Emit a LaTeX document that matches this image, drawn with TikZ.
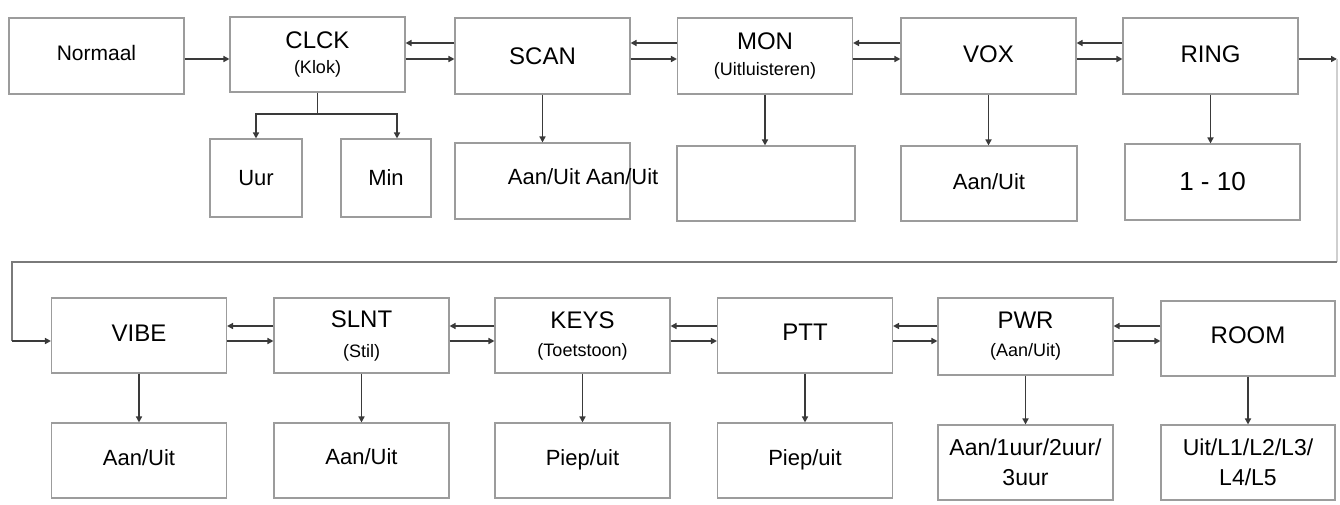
\documentclass[tikz,border=0pt]{standalone}
\usepackage{fontspec}
\setmainfont{Liberation Sans}
\usetikzlibrary{arrows.meta,calc}
\definecolor{boxc}{HTML}{9C9C9C}
\definecolor{arrc}{HTML}{3A3A3A}
\definecolor{wrapc}{HTML}{7A7A7A}
\definecolor{faintc}{HTML}{CFCFCF}
\newcommand{\prn}[1]{{\fontsize{18}{20}\selectfont #1}}
\begin{document}
\begin{tikzpicture}[x=1pt,y=-1pt,
  box/.style={draw=boxc, line width=1.1pt, fill=white, inner sep=0pt,
    minimum width=175pt, minimum height=76pt, align=center,
    font=\fontsize{24}{28}\selectfont},
  subbox/.style={box, font=\fontsize{22}{30}\selectfont},
  arr/.style={draw=arrc, line width=1.5pt, -{Triangle[length=6pt,width=6pt]}},
  plain/.style={draw=arrc, line width=1.5pt},
  wrapline/.style={draw=wrapc, line width=1.1pt},
  faintline/.style={draw=faintc, line width=1.1pt}]
\useasboundingbox (0,0) rectangle (1340,504);
\fill[white] (0,0) rectangle (1340,504);

% helper coordinates for arrow heights
\coordinate (ya) at (0,43);
\coordinate (yb) at (0,59);
\coordinate (ybr) at (0,114);
\coordinate (yc) at (0,326);
\coordinate (yd) at (0,341);

% top row
\node[box, font=\fontsize{21}{24}\selectfont] (norm) at (96.5,56) {\raisebox{6pt}{Normaal}};
\node[box, minimum height=75pt] (clck) at (317.5,54.5) {CLCK\\[-3pt]\prn{(Klok)}};
\node[box] (scan) at (542.5,56) {SCAN};
\node[box] (mon) at (765,56) {\raisebox{2pt}{MON}\\[-4pt]\prn{(Uitluisteren)}};
\node[box] (vox) at (988.5,56) {\raisebox{4pt}{VOX}};
\node[box] (ring) at (1210.5,56) {\raisebox{4pt}{RING}};

% top sub row
\node[subbox, minimum width=92pt, minimum height=78pt] (uur) at (256,178) {Uur};
\node[subbox, minimum width=90pt, minimum height=78pt] (min) at (386,178) {Min};
\node[subbox, label={[font=\fontsize{22}{30}\selectfont, anchor=west, xshift=50pt, yshift=4pt]west:Aan/Uit Aan/Uit}] (scansub) at (542.5,181) {};
\node[subbox, minimum width=178pt, minimum height=75pt] (monsub) at (766,183.5) {};
\node[subbox, minimum width=176pt, minimum height=75pt] (voxsub) at (989,183.5) {\raisebox{4pt}{Aan/Uit}};
\node[subbox, font=\fontsize{26}{30}\selectfont] (ringsub) at (1212.5,182) {1 - 10};

% bottom row
\node[box, minimum height=75pt] (vibe) at (139,335.5) {\raisebox{5pt}{VIBE}};
\node[box, minimum height=75pt] (slnt) at (361.5,335.5) {SLNT\\[2pt]\prn{(Stil)}};
\node[box, minimum height=75pt] (keys) at (582.5,335.5) {KEYS\\[0pt]\prn{(Toetstoon)}};
\node[box, minimum height=75pt] (ptt) at (805,335.5) {\raisebox{7pt}{PTT}};
\node[box, minimum height=77pt] (pwr) at (1025.5,336.5) {PWR\\[0pt]\prn{(Aan/Uit)}};
\node[box, minimum width=174pt, minimum height=75pt] (room) at (1248,338.5) {\raisebox{6pt}{ROOM}};

% bottom sub row
\node[subbox, minimum height=75pt] (vibesub) at (139,460.5) {\raisebox{5pt}{Aan/Uit}};
\node[subbox, minimum height=75pt] (slntsub) at (361.5,460.5) {\raisebox{8pt}{Aan/Uit}};
\node[subbox, minimum height=75pt] (keyssub) at (582.5,460.5) {\raisebox{5pt}{Piep/uit}};
\node[subbox, minimum height=75pt] (pttsub) at (805,460.5) {\raisebox{5pt}{Piep/uit}};
\node[subbox, minimum height=75pt, font=\fontsize{23}{30}\selectfont] (pwrsub) at (1025.5,462.5) {Aan/1uur/2uur/\\3uur};
\node[subbox, minimum width=174pt, minimum height=75pt, font=\fontsize{23}{30}\selectfont] (roomsub) at (1248,462.5) {Uit/L1/L2/L3/\\L4/L5};

% top horizontal arrows
\draw[arr] (norm.east |- yb) -- (clck.west |- yb);
\foreach \a/\b in {clck/scan, scan/mon, mon/vox, vox/ring}{
  \draw[arr] (\b.west |- ya) -- (\a.east |- ya);
  \draw[arr] (\a.east |- yb) -- (\b.west |- yb);
}

% wrap-around connector
\coordinate (c1) at (1337,59);
\coordinate (c2) at (1337,262);
\coordinate (c3) at (12,262);
\coordinate (c4) at (12,341);
\draw[arr] (ring.east |- yb) -- (c1);
\draw[faintline] (c1) -- (c2);
\draw[wrapline] (c2) -- (c3) -- (c4);
\draw[arr] (c4) -- (vibe.west |- c4);

% bottom horizontal arrows
\foreach \a/\b in {vibe/slnt, slnt/keys, keys/ptt, ptt/pwr, pwr/room}{
  \draw[arr] (\b.west |- yc) -- (\a.east |- yc);
  \draw[arr] (\a.east |- yd) -- (\b.west |- yd);
}

% CLCK branch
\draw[plain] (clck.south) -- (clck.south |- ybr);
\draw[arr] (clck.south |- ybr) -| (uur.north);
\draw[arr] (clck.south |- ybr) -| ($(min.north)+(11,0)$);

% vertical arrows
\foreach \a in {scan, mon, vox, ring, vibe, slnt, keys, ptt, pwr, room}{
  \draw[arr] (\a.south) -- (\a.south |- \a sub.north);
}
\end{tikzpicture}
\end{document}
